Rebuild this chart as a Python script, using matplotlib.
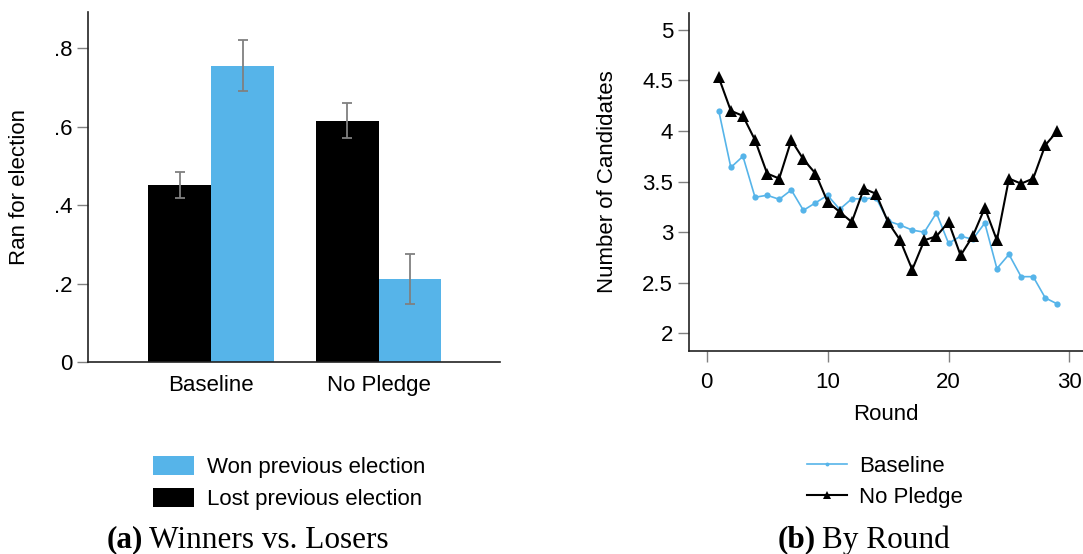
import matplotlib
matplotlib.use("Agg")
import matplotlib.pyplot as plt
from matplotlib.lines import Line2D
from matplotlib.patches import Patch
import numpy as np

plt.rcParams['font.family'] = ['Liberation Sans', 'DejaVu Sans']

# ---- data: panel (a)
groups = ["Baseline", "No Pledge"]
lost_mean = [0.450, 0.614]
lost_lo = [0.417, 0.570]
lost_hi = [0.484, 0.659]
won_mean = [0.754, 0.211]
won_lo = [0.691, 0.148]
won_hi = [0.819, 0.276]
yticks_a = [0, 0.2, 0.4, 0.6, 0.8]
yticklabels_a = ["0", ".2", ".4", ".6", ".8"]

# ---- data: panel (b)
rounds = list(range(1, 30))
baseline = [4.20, 3.64, 3.75, 3.345, 3.365, 3.325, 3.417, 3.216, 3.29, 3.365,
            3.226, 3.33, 3.33, 3.34, 3.11, 3.07, 3.02, 3.00, 3.19, 2.89,
            2.96, 2.93, 3.09, 2.64, 2.78, 2.56, 2.56, 2.35, 2.29]
nopledge = [4.53, 4.20, 4.15, 3.91, 3.58, 3.53, 3.91, 3.72, 3.58, 3.30,
            3.20, 3.10, 3.43, 3.38, 3.10, 2.92, 2.63, 2.92, 2.96, 3.10,
            2.77, 2.96, 3.24, 2.92, 3.53, 3.48, 3.53, 3.86, 4.00]
yticks_b = [2, 2.5, 3, 3.5, 4, 4.5, 5]
yticklabels_b = ["2", "2.5", "3", "3.5", "4", "4.5", "5"]
xticks_b = [0, 10, 20, 30]

BLUE = "#56B4E9"
GRAY = "#808080"
FS = 16

fig = plt.figure(figsize=(10.83, 5.54), dpi=100)

# ---------------- panel (a)
ax1 = fig.add_axes([88/1083, 1-362.3/554, 412/1083, 350.3/554])
x = np.arange(1, len(groups)+1)
w = 0.375
ax1.bar(x - w/2, lost_mean, width=w, color="black", zorder=2)
ax1.bar(x + w/2, won_mean, width=w, color=BLUE, zorder=2)
for xs, m, lo, hi in [(x - w/2, lost_mean, lost_lo, lost_hi), (x + w/2, won_mean, won_lo, won_hi)]:
    m = np.array(m); lo = np.array(lo); hi = np.array(hi)
    ax1.errorbar(xs, m, yerr=[m - lo, hi - m], fmt="none", ecolor=GRAY,
                 elinewidth=1.3, capsize=3.5, capthick=1.3, zorder=3)
ax1.set_xlim(0.264, 2.726)
ax1.set_ylim(0, 0.8915)
ax1.set_yticks(yticks_a)
ax1.set_yticklabels(yticklabels_a)
ax1.set_xticks(x)
ax1.set_xticklabels(groups)
ax1.tick_params(axis="x", length=0, labelsize=FS, pad=9)
ax1.tick_params(axis="y", length=8, color=GRAY, width=1, labelsize=FS, pad=3)
for s in ["top", "right"]:
    ax1.spines[s].set_visible(False)
for s in ["left", "bottom"]:
    ax1.spines[s].set_color("#222222")
    ax1.spines[s].set_linewidth(1.2)
ax1.set_ylabel("Ran for election", fontsize=FS)
ax1.yaxis.set_label_coords((30-88)/412, 0.5)

h_a = [Patch(facecolor=BLUE, edgecolor="none"), Patch(facecolor="black", edgecolor="none")]
fig.legend(h_a, ["Won previous election", "Lost previous election"],
           loc="center left", bbox_to_anchor=(153/1083, 1-483/554), frameon=False,
           fontsize=FS, handlelength=1.85, handleheight=0.95, handletextpad=0.58,
           labelspacing=0.45, borderaxespad=0, borderpad=0)

# ---------------- panel (b)
ax2 = fig.add_axes([689/1083, 1-351/554, 394/1083, 338.3/554])
ax2.plot(rounds, baseline, color=BLUE, lw=1.2, marker="o", ms=4.5,
         markeredgewidth=0, zorder=2)
ax2.plot(rounds, nopledge, color="black", lw=1.5, marker="^", ms=8,
         markeredgewidth=0, zorder=3)
ax2.set_xlim(-1.46, 31.12)
ax2.set_ylim(1.825, 5.17)
ax2.set_yticks(yticks_b)
ax2.set_yticklabels(yticklabels_b)
ax2.set_xticks(xticks_b)
ax2.tick_params(axis="both", length=8, color=GRAY, width=1, labelsize=FS)
ax2.tick_params(axis="x", pad=7)
for s in ["top", "right"]:
    ax2.spines[s].set_visible(False)
for s in ["left", "bottom"]:
    ax2.spines[s].set_color("#222222")
    ax2.spines[s].set_linewidth(1.2)
ax2.set_ylabel("Number of Candidates", fontsize=FS)
ax2.yaxis.set_label_coords((618-689)/394, 0.5)
ax2.set_xlabel("Round", fontsize=FS, labelpad=8)

h_b = [Line2D([], [], color=BLUE, lw=1.2, marker="o", ms=2.8, markeredgewidth=0),
       Line2D([], [], color="black", lw=1.5, marker="^", ms=5.5, markeredgewidth=0)]
fig.legend(h_b, ["Baseline", "No Pledge"],
           loc="center left", bbox_to_anchor=(807/1083, 1-482/554), frameon=False,
           fontsize=FS, handlelength=1.8, handletextpad=0.55,
           labelspacing=0.45, borderaxespad=0, borderpad=0)

# ---------------- captions
serif = ['Liberation Serif', 'DejaVu Serif']
caption_y = 1 - 540/554
CFS = 22.5

def draw_caption(xleft, bold, normal):
    fig.canvas.draw()
    r = fig.canvas.get_renderer()
    t1 = fig.text(xleft, caption_y, bold, family=serif, fontsize=CFS,
                  fontweight="bold", ha="left", va="center")
    bb = t1.get_window_extent(renderer=r)
    x2 = bb.x1 / fig.bbox.width + 6/1083
    fig.text(x2, caption_y, normal, family=serif, fontsize=CFS,
             ha="left", va="center")

draw_caption(107/1083, "(a)", "Winners vs. Losers")
draw_caption(778/1083, "(b)", "By Round")

fig.savefig("out.png", dpi=100)
